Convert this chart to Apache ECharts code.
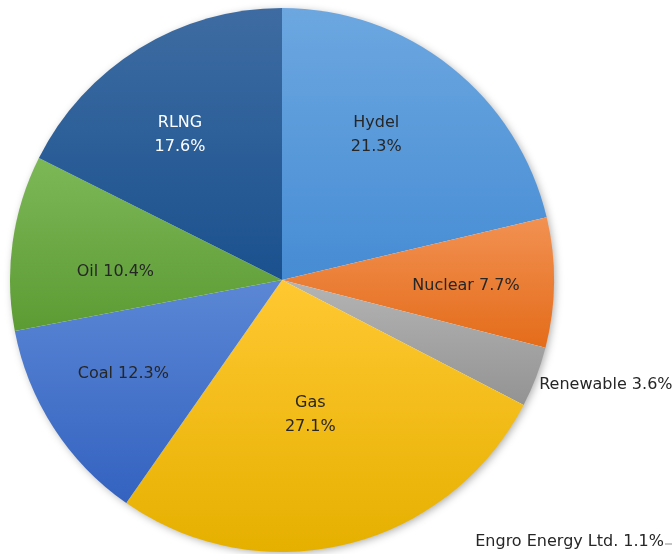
<!DOCTYPE html>
<html lang="en">

<head>
    <meta charset="UTF-8">
    <title>Energy mix</title>
    <script src="https://cdn.jsdelivr.net/npm/echarts@6/dist/echarts.min.js"></script>
    <style>
        html, body {
            margin: 0;
            padding: 0;
            background: #fff;
        }

        #chart {
            width: 672px;
            height: 554px;
        }
    </style>
</head>

<body>
    <div id="chart"></div>

    <script>
        // data
        var names = ['Hydel', 'Nuclear', 'Renewable', 'Gas', 'Coal', 'Oil', 'RLNG'];
        var values = [21.3, 7.7, 3.6, 27.1, 12.3, 10.4, 17.6];
        // slice without a visible sector, only its label
        var extraName = 'Engro Energy Ltd.';
        var extraValue = 1.1;

        // gradient colours, top -> bottom of each slice
        var topColors = ['#6ca7e0', '#f29152', '#b4b4b4', '#ffc832', '#5b87d5', '#7db857', '#3e6ca2'];
        var bottomColors = ['#468cd4', '#e46c1a', '#939393', '#e6b000', '#3362c0', '#5c9b34', '#1a518e'];
        var twoLine = [true, false, false, true, false, false, true];
        var labelColors = ['#262626', '#262626', '#262626', '#262626', '#262626', '#262626', '#ffffff'];
        // nudges of the labels from the default inside position
        var labelShift = [[8, -36], [45, 5], [194, 55], [-5, 0], [-42, 18], [-29, 11], [-29, -27]];

        var chart = echarts.init(document.getElementById('chart'));

        var pieData = names.map(function (n, i) {
            return {
                name: n,
                value: values[i],
                itemStyle: {
                    color: {
                        type: 'linear',
                        x: 0, y: 0, x2: 0, y2: 1,
                        colorStops: [
                            { offset: 0, color: topColors[i] },
                            { offset: 1, color: bottomColors[i] }
                        ]
                    }
                },
                label: {
                    color: labelColors[i]
                }
            };
        });

        var total = values.reduce(function (a, b) { return a + b; }, 0);

        var option = {
            animation: false,
            series: [
                {
                    // soft shadow under the whole pie
                    type: 'pie',
                    silent: true,
                    center: [282, 280],
                    radius: [0, 271],
                    label: { show: false },
                    labelLine: { show: false },
                    itemStyle: {
                        color: '#ffffff',
                        shadowBlur: 8,
                        shadowColor: 'rgba(0,0,0,0.35)',
                        shadowOffsetX: 2,
                        shadowOffsetY: 2
                    },
                    data: [{ value: total }]
                },
                {
                    type: 'pie',
                    center: [282, 280],
                    radius: [0, 272],
                    startAngle: 90,
                    clockwise: true,
                    avoidLabelOverlap: false,
                    itemStyle: {
                        borderWidth: 0
                    },
                    label: {
                        show: true,
                        position: 'inside',
                        fontFamily: 'DejaVu Sans',
                        fontSize: 16,
                        lineHeight: 24,
                        formatter: function (p) {
                            var sep = twoLine[p.dataIndex] ? '\n' : ' ';
                            return p.name + sep + p.value.toFixed(1) + '%';
                        }
                    },
                    labelLine: { show: false },
                    labelLayout: function (p) {
                        var s = labelShift[p.dataIndex];
                        return { dx: s[0], dy: s[1] };
                    },
                    emphasis: { disabled: true },
                    data: pieData
                }
            ],
            graphic: [
                {
                    type: 'text',
                    right: 8,
                    top: 534,
                    style: {
                        text: extraName + ' ' + extraValue.toFixed(1) + '%',
                        fontFamily: 'DejaVu Sans',
                        fontSize: 16,
                        fill: '#262626'
                    }
                },
                {
                    type: 'line',
                    shape: { x1: 665, y1: 544, x2: 672, y2: 544 },
                    style: { stroke: '#8c8c8c', lineWidth: 1 }
                }
            ]
        };
        chart.setOption(option);
    </script>
</body>

</html>
